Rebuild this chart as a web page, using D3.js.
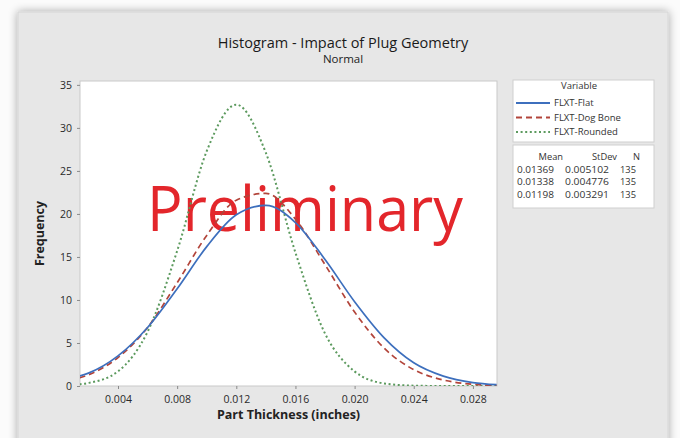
<!DOCTYPE html>
<html>
<head>
<meta charset="utf-8">
<script src="https://cdn.jsdelivr.net/npm/d3@7"></script>
<style>
  html, body { margin: 0; padding: 0; background: #ffffff; }
  svg { display: block; font-family: 'Open Sans', 'Noto Sans', sans-serif; }
</style>
</head>
<body>
<script>
'use strict';

// thickness positions (inches) where the fitted curves were read
const thickness = [0.0014, 0.002, 0.004, 0.006, 0.008, 0.010, 0.012, 0.014, 0.016, 0.018, 0.020, 0.022, 0.024, 0.026, 0.028, 0.0296];
// frequency
const flat     = [1.15, 1.5, 3.5, 6.8, 11.3, 16.2, 19.9, 21.0, 19.0, 14.7, 9.8, 5.6, 2.7, 1.15, 0.4, 0.15];
const dogBone  = [0.95, 1.3, 3.3, 6.8, 12.0, 17.5, 21.6, 22.4, 19.4, 14.1, 8.6, 4.4, 1.9, 0.7, 0.2, 0.07];
const rounded  = [0.2, 0.35, 1.7, 6.3, 15.7, 27.3, 32.7, 27.1, 15.5, 6.1, 1.7, 0.3, 0.04, 0, 0, 0];

const seriesNames = ['FLXT-Flat', 'FLXT-Dog Bone', 'FLXT-Rounded'];
const means   = ['0.01369', '0.01338', '0.01198'];
const stdevs  = ['0.005102', '0.004776', '0.003291'];
const counts  = ['135', '135', '135'];

const xTicks = [0.004, 0.008, 0.012, 0.016, 0.020, 0.024, 0.028];
const yTicks = [0, 5, 10, 15, 20, 25, 30, 35];

const W = 680, H = 438;
const plot = { left: 80, right: 497, top: 81, bottom: 386 };

const styles = [
	{ color: '#3d6fbd', dash: null,  width: 1.7 },
	{ color: '#b2443a', dash: '6,4', width: 1.7 },
	{ color: '#5c9a5e', dash: '2,2.6', width: 2 }
];

let svg = d3.select('body').append('svg').attr('width', W).attr('height', H);

// panel with soft shadow
let defs = svg.append('defs');
let shadow = defs.append('filter').attr('id', 'shadow').attr('x', '-5%').attr('y', '-5%').attr('width', '110%').attr('height', '110%');
shadow.append('feGaussianBlur').attr('in', 'SourceAlpha').attr('stdDeviation', 5);
shadow.append('feOffset').attr('dx', 0).attr('dy', 0).attr('result', 'blur');
shadow.append('feComponentTransfer').append('feFuncA').attr('type', 'linear').attr('slope', 0.35);
let merge = shadow.append('feMerge');
merge.append('feMergeNode');
merge.append('feMergeNode').attr('in', 'SourceGraphic');

defs.append('clipPath').attr('id', 'plotclip').append('rect')
	.attr('x', plot.left).attr('y', plot.top)
	.attr('width', plot.right - plot.left).attr('height', plot.bottom - plot.top);

svg.append('rect').attr('x', 0).attr('y', 0).attr('width', W).attr('height', H).attr('fill', '#fbfbfb');
svg.append('rect')
	.attr('x', 18).attr('y', 12).attr('width', 650).attr('height', 445)
	.attr('fill', '#e7e7e7').attr('stroke', '#d6d6d6')
	.attr('filter', 'url(#shadow)');

// titles
svg.append('text').attr('x', 343).attr('y', 48).attr('text-anchor', 'middle')
	.attr('font-size', 14.5).attr('font-weight', 500).attr('fill', '#1a1a1a')
	.text('Histogram - Impact of Plug Geometry');
svg.append('text').attr('x', 343).attr('y', 63).attr('text-anchor', 'middle')
	.attr('font-size', 11.5).attr('font-weight', 500).attr('fill', '#222')
	.text('Normal');

// scales
let xScale = d3.scaleLinear().domain([0.00143, 0.02963]).range([plot.left, plot.right]);
let yScale = d3.scaleLinear().domain([0, 35.45]).range([plot.bottom, plot.top]);

svg.append('rect')
	.attr('x', plot.left).attr('y', plot.top)
	.attr('width', plot.right - plot.left).attr('height', plot.bottom - plot.top)
	.attr('fill', '#ffffff').attr('stroke', '#c9c9c9');

// axes
let xAxis = d3.axisBottom(xScale).tickValues(xTicks).tickFormat(d3.format('.3f')).tickSize(3).tickSizeOuter(0);
let yAxis = d3.axisLeft(yScale).tickValues(yTicks).tickFormat(d3.format('d')).tickSize(3).tickSizeOuter(0);

let gx = svg.append('g').attr('transform', 'translate(0,' + plot.bottom + ')').call(xAxis);
let gy = svg.append('g').attr('transform', 'translate(' + plot.left + ',0)').call(yAxis);
[gx, gy].forEach(g => {
	g.select('.domain').remove();
	g.selectAll('line').attr('stroke', '#8a8a8a');
	g.selectAll('text').attr('fill', '#2a2a2a').attr('font-size', 10.5).attr('font-weight', 500)
		.attr('font-family', "'Open Sans', sans-serif");
});
gx.selectAll('text').attr('dy', '1.05em');
gy.selectAll('text').attr('dx', '-0.2em');

svg.append('text').attr('x', (plot.left + plot.right) / 2).attr('y', 419).attr('text-anchor', 'middle')
	.attr('font-size', 12.5).attr('font-weight', 700).attr('fill', '#222')
	.text('Part Thickness (inches)');
svg.append('text').attr('transform', 'translate(44,' + ((plot.top + plot.bottom) / 2) + ') rotate(-90)')
	.attr('text-anchor', 'middle')
	.attr('font-size', 12.5).attr('font-weight', 700).attr('fill', '#222')
	.text('Frequency');

// watermark
svg.append('text').attr('x', 147).attr('y', 231)
	.attr('font-size', 63).attr('fill', '#e3262b')
	.attr('textLength', 316).attr('lengthAdjust', 'spacingAndGlyphs')
	.text('Preliminary');

// curves
let line = d3.line()
	.x((d, i) => xScale(thickness[i]))
	.y(d => yScale(d))
	.curve(d3.curveMonotoneX);

let curves = svg.append('g').attr('clip-path', 'url(#plotclip)');
[rounded, dogBone, flat].forEach((s, k) => {
	let st = styles[2 - k];
	curves.append('path')
		.attr('d', line(s))
		.attr('fill', 'none')
		.attr('stroke', st.color)
		.attr('stroke-width', st.width)
		.attr('stroke-dasharray', st.dash);
});

// legend
let lg = svg.append('g');
lg.append('rect').attr('x', 513).attr('y', 80).attr('width', 141).attr('height', 62)
	.attr('fill', '#fff').attr('stroke', '#cfcfcf');
lg.append('text').attr('x', 579).attr('y', 89).attr('text-anchor', 'middle')
	.attr('font-size', 9.5).attr('fill', '#333').text('Variable');
seriesNames.forEach((n, i) => {
	let y = 103 + i * 14.5;
	lg.append('line').attr('x1', 516).attr('x2', 550).attr('y1', y).attr('y2', y)
		.attr('stroke', styles[i].color).attr('stroke-width', 1.8)
		.attr('stroke-dasharray', styles[i].dash);
	lg.append('text').attr('x', 554).attr('y', y + 3.3)
		.attr('font-size', 9.5).attr('fill', '#333').text(n);
});

lg.append('rect').attr('x', 513).attr('y', 145).attr('width', 141).attr('height', 63)
	.attr('fill', '#fff').attr('stroke', '#cfcfcf');
const cols = [554, 609, 636];
const headX = [563, 617, 640];
['Mean', 'StDev', 'N'].forEach((h, j) => {
	lg.append('text').attr('x', headX[j]).attr('y', 160).attr('text-anchor', 'end')
		.attr('font-size', 9.3).attr('fill', '#333').text(h);
});
means.forEach((m, i) => {
	let y = 172.5 + i * 12.5;
	[m, stdevs[i], counts[i]].forEach((v, j) => {
		lg.append('text').attr('x', cols[j]).attr('y', y).attr('text-anchor', 'end')
			.attr('font-size', 9).attr('fill', '#333')
			.attr('textLength', j === 2 ? 16 : (j === 0 ? 37 : 44)).attr('lengthAdjust', 'spacingAndGlyphs')
			.text(v);
	});
});
</script>
</body>
</html>
